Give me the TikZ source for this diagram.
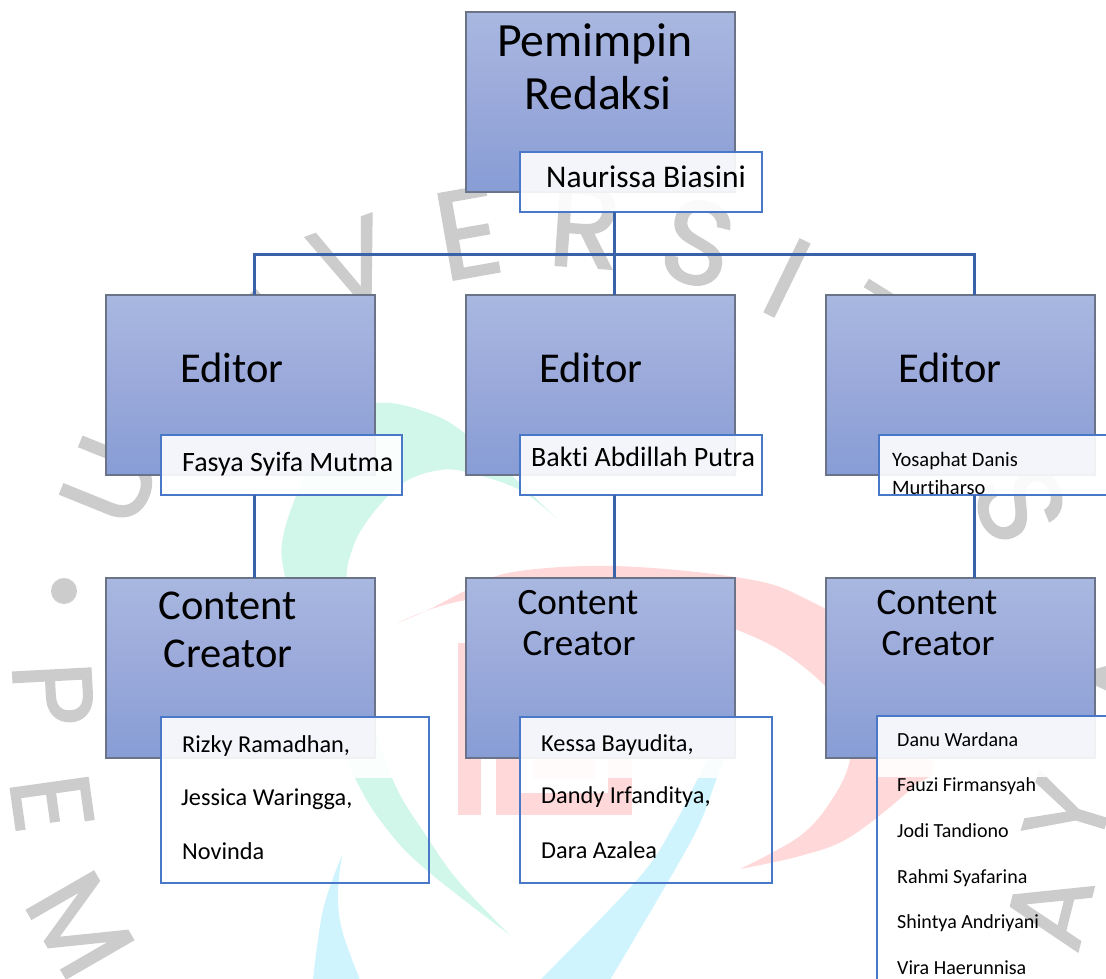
\documentclass[tikz,border=0pt]{standalone}
\usepackage{fontspec}
\setmainfont[Ligatures=NoCommon]{Carlito}
\newfontfamily\wmfont[FakeBold=1.5]{Poppins}
\usetikzlibrary{calc}
\definecolor{wmgray}{HTML}{CCCCCC}
\definecolor{wmgreen}{HTML}{D0F7E9}
\definecolor{wmred}{HTML}{FFD9DA}
\definecolor{wmcyan}{HTML}{D0F4FE}
\definecolor{boxtop}{HTML}{A9B8E0}
\definecolor{boxmid}{HTML}{9AA9DA}
\definecolor{boxbot}{HTML}{879DD5}
\definecolor{boxedge}{HTML}{6A7388}
\definecolor{nameedge}{HTML}{4A78C8}
\definecolor{conncol}{HTML}{3A62A8}
\tikzset{
  rolebox/.style={draw=boxedge,line width=1.3pt,top color=boxtop,bottom color=boxbot,middle color=boxmid,
    minimum width=269pt,minimum height=180pt,inner sep=0pt,outer sep=0pt,anchor=north west},
  namebox/.style={draw=nameedge,line width=1.5pt,fill=white,fill opacity=.9,text opacity=1,
    minimum width=#1,minimum height=60pt,inner sep=0pt,outer sep=0pt,anchor=north west},
  listbox/.style n args={2}{draw=nameedge,line width=1.3pt,
    minimum width=#1,minimum height=#2,inner sep=0pt,outer sep=0pt,anchor=north west},
  veilbox/.style={fill=white,fill opacity=.9,minimum width=#1,minimum height=61pt,inner sep=0pt,outer sep=0pt,anchor=north west},
  conn/.style={draw=conncol,line width=3pt},
  wm/.style={text=wmgray,font=\wmfont\fontsize{#1}{#1}\selectfont,inner sep=0pt,anchor=center},
  wm/.default=112,
  bigtxt/.style={anchor=center,align=center,inner sep=0pt,text=black},
  nametxt/.style={anchor=base west,inner sep=0pt,text=black,font=\fontsize{28}{28}\selectfont},
  listtxt/.style={anchor=base west,inner sep=0pt,text=black,font=\fontsize{24.3}{24.3}\selectfont},
  smalltxt/.style={anchor=base west,inner sep=0pt,text=black,font=\fontsize{20}{20}\selectfont},
}
\begin{document}
\begin{tikzpicture}[x=1pt,y=-1pt]
\useasboundingbox (0,0) rectangle (1106,979);
\clip (0,0) rectangle (1106,979);
\fill[white] (0,0) rectangle (1106,979);
% watermark: logo swooshes
\fill[wmgreen] plot[smooth,tension=.6] coordinates {(557,519) (467,435) (420,410) (377,403) (337,417) (303,480) (283,537) (285,577) (305,660) (355,778) (390,833) (430,873) (510,935)}
  -- plot[smooth,tension=.6] coordinates {(510,935) (460,883) (427,837) (392,778) (362,680) (347,590) (352,550) (370,517) (403,483) (440,470) (470,473) (520,490) (557,519)} -- cycle;
\fill[wmred] plot[smooth,tension=.6] coordinates {(398,623) (430,609) (467,590) (513,572) (613,566) (735,577) (800,596) (880,650) (933,759) (913,787) (850,837) (800,856) (740,869)}
  -- plot[smooth,tension=.6] coordinates {(740,869) (800,836) (833,798) (850,759) (848,715) (800,664) (735,629) (613,590) (467,600) (398,623)} -- cycle;
\fill[wmcyan] plot[smooth,tension=.6] coordinates {(342,855) (323,910) (313,980)}
  -- plot[smooth,tension=.6] coordinates {(360,980) (342,930) (338,893) (342,855)} -- cycle;
\fill[wmcyan] plot[smooth,tension=.6] coordinates {(720,735) (698,778) (673,827) (637,880) (540,980)}
  -- plot[smooth,tension=.6] coordinates {(610,980) (673,873) (700,823) (717,778) (735,735)} -- cycle;
\fill[wmred] (458,643) rectangle (481,815);
\fill[wmred] (496,700) rectangle (520,815);
\fill[wmred] (496,793) rectangle (632,815);
\fill[wmred] (608,740) rectangle (632,815);
\fill[wmred] (533,740) rectangle (595,778);
% watermark: lettering
\fill[wmgray] (64,591) circle (13);
\node[wm=118,rotate=68] (wmU) at (110,481) {U};
\node[wm,rotate=42] (wmI) at (278,322) {I};
\node[wm,rotate=20] (wmV) at (352,262) {V};
\node[wm=125,rotate=10] (wmE) at (468,233) {E};
\node[wm=118,rotate=-4] (wmR) at (585,226) {R};
\node[wm=118,rotate=-14] (wmS) at (698,243) {S};
\node[wm=116,rotate=-26] (wmIb) at (787,278) {I};
\node[wm,rotate=-32] (wmT) at (871,327) {T};
\node[wm=118,rotate=-68] (wmSb) at (1020,504) {S};
\node[wm,rotate=85] (wmAc) at (1130,680) {A};
\node[wm,rotate=73] (wmY) at (1068,812) {Y};
\node[wm=110,rotate=76] (wmA) at (1049,910) {A};
\node[wm,rotate=-87] (wmP) at (53,694) {P};
\node[wm,rotate=-82] (wmEb) at (52,803) {E};
\node[wm,rotate=-60] (wmM) at (80,925) {M};
% role boxes
\node[rolebox] (top) at (466,12) {};
\node[rolebox] (ed1) at (106,295) {};
\node[rolebox] (ed2) at (466,295) {};
\node[rolebox] (ed3) at (826,295) {};
\node[rolebox] (cc1) at (106,578) {};
\node[rolebox] (cc2) at (466,578) {};
\node[rolebox] (cc3) at (826,578) {};
% name boxes
\node[namebox=242pt] (nTop) at (520,152) {};
\node[namebox=241pt] (n1) at (161,435) {};
\node[namebox=242pt] (n2) at (520,435) {};
\node[namebox=240pt] (n3) at (879,435) {};
% list boxes
\node[veilbox=268pt] (v1) at (161,717) {};
\node[veilbox=252pt] (v2) at (520,717) {};
\node[veilbox=240pt] (v3) at (877,716) {};
\node[listbox={268pt}{166pt}] (l1) at (161,717) {};
\node[listbox={252pt}{166pt}] (l2) at (520,717) {};
\node[listbox={240pt}{290pt}] (l3) at (877,716) {};
% connectors
\coordinate (busL) at (254,254);
\coordinate (busM) at (614,254);
\coordinate (busR) at (974,254);
\draw[conn] (nTop.south -| busM) -- (ed2.north -| busM);
\draw[conn] (ed1.north -| busL) -- (busL) -- (busR) -- (ed3.north -| busR);
\draw[conn] (n1.south -| busL) -- (cc1.north -| busL);
\draw[conn] (n2.south -| busM) -- (cc2.north -| busM);
\draw[conn] (n3.south -| busR) -- (cc3.north -| busR);
% role labels
\node[bigtxt,font=\fontsize{47.7}{53}\selectfont] (tTop) at (595,67) {Pemimpin\\\hspace*{6pt}Redaksi};
\node[bigtxt,anchor=base,font=\fontsize{42.5}{48}\selectfont] (tE1) at (232,382) {Editor};
\node[bigtxt,anchor=base,font=\fontsize{42.5}{48}\selectfont] (tE2) at (591,382) {Editor};
\node[bigtxt,anchor=base,font=\fontsize{42.5}{48}\selectfont] (tE3) at (950,382) {Editor};
\node[bigtxt,font=\fontsize{42.5}{48}\selectfont] (tC1) at (228,630) {Content\\Creator};
\node[bigtxt,font=\fontsize{37.2}{41}\selectfont] (tC2) at (578,623) {Content\\\hspace*{2pt}Creator};
\node[bigtxt,font=\fontsize{37.2}{41}\selectfont] (tC3) at (937,623) {Content\\\hspace*{2pt}Creator};
% names
\node[nametxt,font=\fontsize{31.5}{31.5}\selectfont] (tN) at (546,187) {Naurissa Biasini};
\node[nametxt] (tF) at (182,471) {Fasya Syifa Mutma};
\node[nametxt] (tB) at (531,466) {Bakti Abdillah Putra};
\node[smalltxt,font=\fontsize{20.5}{20.5}\selectfont] (tY1) at (892,466) {Yosaphat Danis};
\node[smalltxt,font=\fontsize{20.5}{20.5}\selectfont] (tY2) at (892,494) {Murtiharso};
\node[listtxt] (tR1) at (182,752) {Rizky Ramadhan,};
\node[listtxt] (tR2) at (181,805) {Jessica Waringga,};
\node[listtxt] (tR3) at (182,859) {Novinda};
\node[listtxt] (tK1) at (541,751) {Kessa Bayudita,};
\node[listtxt] (tK2) at (541,803) {Dandy Irfanditya,};
\node[listtxt] (tK3) at (541,858) {Dara Azalea};
\node[smalltxt] (tD1) at (897,746) {Danu Wardana};
\node[smalltxt] (tD2) at (897,791) {Fauzi Firmansyah};
\node[smalltxt] (tD3) at (897,837) {Jodi Tandiono};
\node[smalltxt] (tD4) at (897,883) {Rahmi Syafarina};
\node[smalltxt] (tD5) at (897,928) {Shintya Andriyani};
\node[smalltxt] (tD6) at (897,974) {Vira Haerunnisa};
\end{tikzpicture}
\end{document}
